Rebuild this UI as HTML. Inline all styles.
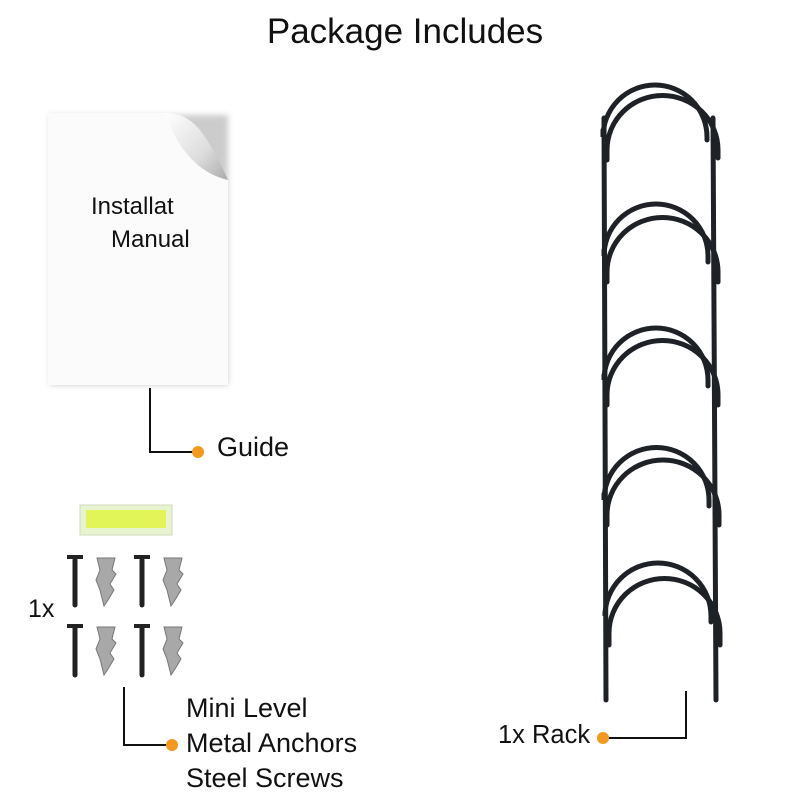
<!DOCTYPE html>
<html><head><meta charset="utf-8"><style>
body{margin:0;width:800px;height:800px;background:#fff;position:relative;overflow:hidden;font-family:"Liberation Sans",sans-serif;color:#111}
.t{position:absolute;white-space:nowrap}
</style></head><body>
<div class="t" style="left:0;width:810px;text-align:center;top:12px;font-size:35px">Package Includes</div>

<svg width="800" height="800" style="position:absolute;left:0;top:0">
<defs><filter id="sh" x="-20%" y="-20%" width="140%" height="140%"><feGaussianBlur stdDeviation="3"/></filter>
<linearGradient id="curl" x1="0" y1="0" x2="1" y2="1"><stop offset="0" stop-color="#fff"/><stop offset="0.6" stop-color="#ddd"/><stop offset="1" stop-color="#aaa"/></linearGradient></defs>
<rect x="50" y="115" width="178" height="270" fill="#ccc" filter="url(#sh)"/>
<path d="M48 113 H165 Q200 150 228 180 V385 H48 Z" fill="#fbfbfb"/>
<path d="M165 113 Q185 170 228 180 Q215 150 200 130 Q185 112 165 113 Z" fill="url(#curl)"/>
<path d="M150 388 V452 H198" stroke="#111" stroke-width="2" fill="none"/>
<circle cx="198" cy="452" r="6" fill="#f39a1e"/>
<rect x="80" y="505" width="92" height="30" fill="#e8f3d0" stroke="#cfd9b8"/>
<rect x="86" y="510" width="80" height="18" fill="#dff53a" opacity="0.8"/>
<g stroke="#222" stroke-width="5" stroke-linecap="round">
<line x1="75" y1="560" x2="75" y2="605"/><line x1="142" y1="560" x2="142" y2="605"/>
<line x1="75" y1="628" x2="75" y2="675"/><line x1="142" y1="628" x2="142" y2="675"/>
</g>
<g stroke="#222" stroke-width="4"><line x1="67" y1="557" x2="83" y2="557"/><line x1="134" y1="557" x2="150" y2="557"/><line x1="67" y1="626" x2="83" y2="626"/><line x1="134" y1="626" x2="150" y2="626"/></g>
<g fill="#a8a8a8" stroke="#777">
<path d="M97 558 H115 L112 570 L116 574 L110 584 L114 590 L108 600 L104 606 L100 590 L96 580 L100 570 Z"/>
<path d="M164 558 H182 L179 570 L183 574 L177 584 L181 590 L175 600 L171 606 L167 590 L163 580 L167 570 Z"/>
<path d="M97 627 H115 L112 639 L116 643 L110 653 L114 659 L108 669 L104 675 L100 659 L96 649 L100 639 Z"/>
<path d="M164 627 H182 L179 639 L183 643 L177 653 L181 659 L175 669 L171 675 L167 659 L163 649 L167 639 Z"/>
</g>
<path d="M124 687 V745 H172" stroke="#111" stroke-width="2" fill="none"/>
<circle cx="172" cy="745" r="6" fill="#f39a1e"/>
<g stroke="#1e2226" stroke-width="5" fill="none" stroke-linecap="round">
<line x1="604" y1="118" x2="606" y2="700"/><line x1="713" y1="118" x2="716" y2="700"/>
<path d="M603 130 V137 A52 52 0 0 1 707 137 V140"/>
<path d="M607 160 V150 A55 54 0 0 1 718 150 V158"/>
<path d="M604 250 V256 A52 52 0 0 1 708 256 V262"/>
<path d="M607 282 V272 A55 54 0 0 1 718 272 V282"/>
<path d="M604 375 V380 A52 52 0 0 1 708 380 V386"/>
<path d="M607 405 V395 A55 54 0 0 1 718 395 V405"/>
<path d="M604 494 V500 A52 52 0 0 1 709 500 V506"/>
<path d="M607 525 V515 A55 54 0 0 1 719 515 V525"/>
<path d="M605 612 V616 A52 52 0 0 1 711 616 V622"/>
<path d="M609 645 V633 A55 54 0 0 1 720 633 V645"/>
</g>
<path d="M686 691 V738 H603" stroke="#111" stroke-width="2" fill="none"/>
<circle cx="603" cy="738" r="6" fill="#f39a1e"/>
</svg>

<div class="t" style="left:91px;top:190px;font-size:24px;line-height:33px">Installat</div>
<div class="t" style="left:111px;top:223px;font-size:24px;line-height:33px">Manual</div>
<div class="t" style="left:217px;top:432px;font-size:27px">Guide</div>
<div class="t" style="left:28px;top:595px;font-size:25px">1x</div>
<div class="t" style="left:186px;top:691px;font-size:27px;line-height:35px">Mini Level<br>Metal Anchors<br>Steel Screws</div>
<div class="t" style="left:498px;top:721px;font-size:25.5px">1x Rack</div>
</body></html>
